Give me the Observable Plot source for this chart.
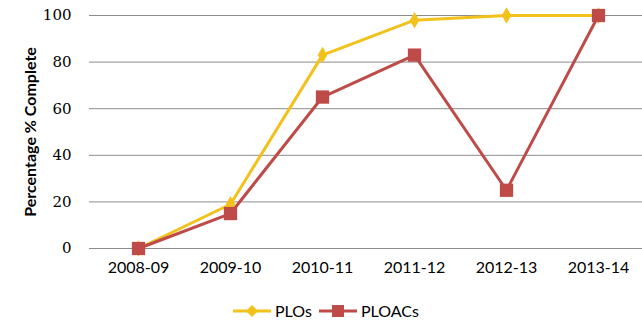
<!DOCTYPE html>
<html>
<head>
<meta charset="utf-8">
<script src="https://cdn.jsdelivr.net/npm/d3@7"></script>
<script src="https://cdn.jsdelivr.net/npm/@observablehq/plot@0.6"></script>
<style>
  body { margin: 0; background: #fff; }
  #wrap { position: relative; width: 642px; height: 320px; overflow: hidden; }
  #legend { position: absolute; left: 232px; top: 302px; height: 18px; display: flex; align-items: center; font-family: Lato, "Open Sans", sans-serif; font-size: 16px; line-height: 18px; color: #000; }
  #legend .item { display: flex; align-items: center; margin-right: 6px; }
  #legend svg { margin-right: 3px; display: block; }
</style>
</head>
<body>
<div id="wrap">
  <div id="chart"></div>
  <div id="legend"></div>
</div>
<script>
const years = ["2008-09", "2009-10", "2010-11", "2011-12", "2012-13", "2013-14"];
const plos = [0, 19, 83, 98, 100, 100];
const ploacs = [0, 15, 65, 83, 25, 100];
const yTicks = [0, 20, 40, 60, 80, 100];
const seriesNames = ["PLOs", "PLOACs"];
const seriesColors = ["#F2C11B", "#BE4B48"];

const data = [];
years.forEach((y, i) => {
  data.push({year: y, value: plos[i], series: seriesNames[0]});
  data.push({year: y, value: ploacs[i], series: seriesNames[1]});
});
const dPLO = data.filter(d => d.series === "PLOs");
const dPLOAC = data.filter(d => d.series === "PLOACs");

const chart = Plot.plot({
  width: 642,
  height: 290,
  marginLeft: 89,
  marginRight: 0,
  marginTop: 15,
  marginBottom: 42,
  x: {type: "point", domain: years, range: [136, 599], padding: 0},
  y: {domain: [0, 100], range: [248, 15]},
  style: {background: "#fff"},
  marks: [
    Plot.ruleY(yTicks, {stroke: "#8c8c8c", strokeWidth: 1}),
    Plot.axisY({
      ticks: yTicks, tickSize: 0, tickPadding: 18,
      fontFamily: "'DejaVu Serif', 'Liberation Serif', serif", fontSize: 15,
      label: null
    }),
    Plot.text(["Percentage % Complete"], {
      frameAnchor: "left", textAnchor: "middle", dx: -59, rotate: -90,
      fontFamily: "Lato, 'Open Sans', sans-serif", fontWeight: "bold", fontSize: 16, fill: "#000"
    }),
    Plot.axisX({
      tickSize: 0, tickPadding: 13,
      fontFamily: "Lato, 'Open Sans', sans-serif", fontSize: 16, label: null
    }),
    Plot.line(dPLO, {x: "year", y: "value", stroke: seriesColors[0], strokeWidth: 3}),
    Plot.line(dPLOAC, {x: "year", y: "value", stroke: seriesColors[1], strokeWidth: 3}),
    Plot.dot(dPLO, {x: "year", y: "value", symbol: "diamond", r: 5, fill: seriesColors[0], stroke: null}),
    Plot.dot(dPLOAC, {x: "year", y: "value", symbol: "square", r: 7.5, fill: seriesColors[1], stroke: null})
  ]
});
chart.querySelectorAll("[aria-label='y-axis tick label'] text, [aria-label='x-axis tick label'] text").forEach(t => t.setAttribute("fill", "#000"));
document.getElementById("chart").appendChild(chart);

const legend = document.getElementById("legend");
seriesNames.forEach((name, i) => {
  const item = document.createElement("div");
  item.className = "item";
  const marker = i === 0
    ? `<path d="M20,3 L26,9 L20,15 L14,9 Z" fill="${seriesColors[i]}"/>`
    : `<rect x="14" y="3" width="12" height="12" fill="${seriesColors[i]}"/>`;
  item.innerHTML = `<svg width="40" height="18" viewBox="0 0 40 18"><line x1="1" x2="39" y1="9" y2="9" stroke="${seriesColors[i]}" stroke-width="3"/>${marker}</svg><span>${name}</span>`;
  legend.appendChild(item);
});
</script>
</body>
</html>
